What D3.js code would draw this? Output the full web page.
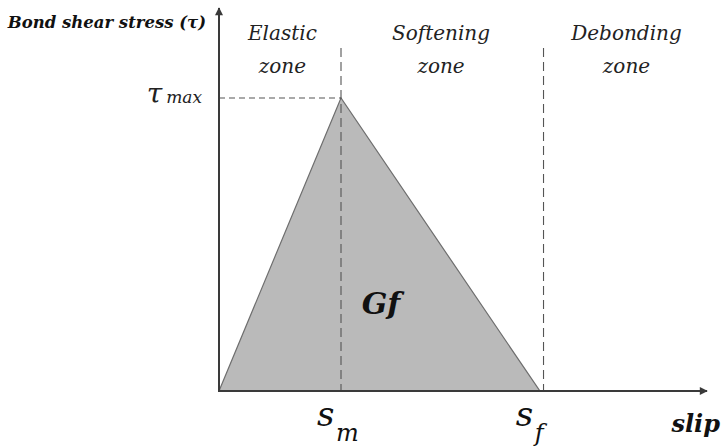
<!DOCTYPE html>
<html>
<head>
<meta charset="utf-8">
<script src="https://cdn.jsdelivr.net/npm/d3@7"></script>
<style>
  html, body { margin: 0; padding: 0; background: #fff; }
</style>
</head>
<body>
<svg id="chart" width="723" height="448"></svg>
<script>
// Bilinear bond–slip law (normalised units)
const slipPoints = [0, 1, 2.63];      // origin, s_m, s_f
const stressPoints = [0, 1, 0];       // 0, τ max, 0
const zoneBounds = [1, 2.66];         // elastic | softening | debonding
const zoneNames = [["Elastic", "zone"], ["Softening", "zone"], ["Debonding", "zone"]];
const zoneCenters = [0.52, 1.82, 3.34];

const FONT = "'DejaVu Serif', serif";

const svg = d3.select("#chart");
const x = d3.scaleLinear().domain([0, 4]).range([219, 707]);
const y = d3.scaleLinear().domain([0, 1]).range([391, 98]);

const axisColor = "#3a3a3a";

const defs = svg.append("defs");
defs.append("marker")
  .attr("id", "arrow2")
  .attr("viewBox", "0 0 10 10")
  .attr("refX", 9).attr("refY", 5)
  .attr("markerWidth", 10).attr("markerHeight", 8)
  .attr("markerUnits", "userSpaceOnUse")
  .attr("orient", "auto")
  .append("path").attr("d", "M0,0 L10,5 L0,10 Z").attr("fill", axisColor);

// triangle (fracture energy area)
const pts = slipPoints.map((s, i) => [x(s), y(stressPoints[i])]);
svg.append("path")
  .attr("d", d3.line()(pts) + "Z")
  .attr("fill", "#bababa")
  .attr("stroke", "#6e6e6e")
  .attr("stroke-width", 1.2);

// dashed zone boundaries
zoneBounds.forEach(b => {
  svg.append("line")
    .attr("x1", x(b)).attr("x2", x(b))
    .attr("y1", 48).attr("y2", y(0))
    .attr("stroke", "#555").attr("stroke-width", 1.1)
    .attr("stroke-dasharray", "9,5");
});

// τ max guide
svg.append("line")
  .attr("x1", x(0)).attr("x2", x(slipPoints[1]))
  .attr("y1", y(1)).attr("y2", y(1))
  .attr("stroke", "#555").attr("stroke-width", 1.1)
  .attr("stroke-dasharray", "6,4");

// axes
svg.append("line")
  .attr("x1", x(0)).attr("x2", x(0))
  .attr("y1", y(0)).attr("y2", 8)
  .attr("stroke", axisColor).attr("stroke-width", 2)
  .attr("marker-end", "url(#arrow2)");
svg.append("line")
  .attr("x1", x(0) - 1).attr("x2", x(4))
  .attr("y1", y(0)).attr("y2", y(0))
  .attr("stroke", axisColor).attr("stroke-width", 2)
  .attr("marker-end", "url(#arrow2)");

function label(sel) {
  return sel.append("text").attr("font-family", FONT);
}

// axis titles
label(svg)
  .attr("x", 206).attr("y", 28)
  .attr("text-anchor", "end")
  .attr("font-style", "italic").attr("font-weight", "bold")
  .attr("font-size", 16.5)
  .attr("fill", "#111")
  .text("Bond shear stress (τ)");

label(svg)
  .attr("x", 720).attr("y", 432)
  .attr("text-anchor", "end")
  .attr("font-style", "italic").attr("font-weight", "bold")
  .attr("font-size", 24)
  .attr("fill", "#111")
  .text("slip");

// zone labels
zoneNames.forEach((lines, i) => {
  const t = label(svg)
    .attr("text-anchor", "middle")
    .attr("font-style", "italic")
    .attr("font-size", 20)
    .attr("fill", "#222");
  lines.forEach((ln, j) => {
    t.append("tspan")
      .attr("x", x(zoneCenters[i]))
      .attr("y", 40 + j * 33)
      .text(ln);
  });
});

// τ max label
const tm = label(svg)
  .attr("x", 202).attr("y", y(1) + 5)
  .attr("text-anchor", "end")
  .attr("font-style", "italic")
  .attr("fill", "#222");
tm.append("tspan").attr("font-size", 28).text("τ");
tm.append("tspan").attr("font-size", 17).attr("dx", 4).text("max");

// s_m, s_f labels: main letter plus a separate lowered subscript
[["m", slipPoints[1]], ["f", slipPoints[2]]].forEach(([sub, s]) => {
  label(svg)
    .attr("x", x(s) - 24).attr("y", 426)
    .attr("font-style", "italic")
    .attr("font-size", 34)
    .attr("fill", "#111")
    .text("s");
  label(svg)
    .attr("x", x(s) - 5).attr("y", 441)
    .attr("font-style", "italic")
    .attr("font-size", 24)
    .attr("fill", "#111")
    .text(sub);
});

// Gf label
label(svg)
  .attr("x", 381).attr("y", 314)
  .attr("text-anchor", "middle")
  .attr("font-style", "italic").attr("font-weight", "bold")
  .attr("font-size", 30)
  .attr("fill", "#111")
  .text("Gf");
</script>
</body>
</html>
